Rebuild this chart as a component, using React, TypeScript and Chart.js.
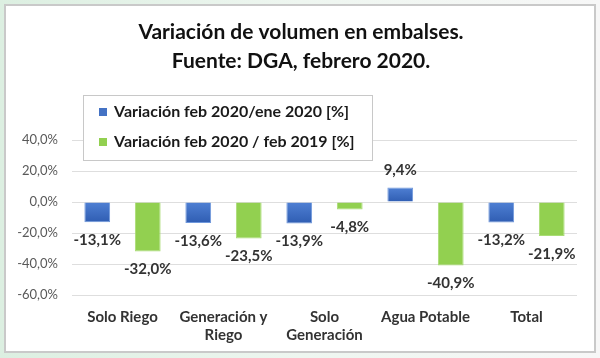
import React, { useEffect, useRef } from 'react';
import { Chart, registerables } from 'chart.js';

Chart.register(...registerables);

const titleLines = ['Variación de volumen en embalses.', 'Fuente: DGA, febrero 2020.'];
const categories: (string | string[])[] = [
  'Solo Riego',
  ['Generación y', 'Riego'],
  ['Solo', 'Generación'],
  'Agua Potable',
  'Total',
];
const seriesNames = ['Variación feb 2020/ene 2020 [%]', 'Variación feb 2020 / feb 2019 [%]'];
const seriesMonth = [-13.1, -13.6, -13.9, 9.4, -13.2];
const seriesYear = [-32.0, -23.5, -4.8, -40.9, -21.9];
const yMin = -60;
const yMax = 40;
const yStep = 20;

const FONT = 'Lato, Carlito, Calibri, "DejaVu Sans", sans-serif';
const fmt = (v: number) => v.toFixed(1).replace('.', ',') + '%';

const blueGradient = (ctx: any) => {
  const chart = ctx.chart;
  const y = chart.scales?.y;
  if (!ctx.parsed || !y) return '#3f6fc6';
  const p0 = y.getPixelForValue(0);
  const p1 = y.getPixelForValue(ctx.parsed.y);
  const top = Math.min(p0, p1);
  const bot = Math.max(p0, p1);
  if (!isFinite(top) || bot - top < 1) return '#3f6fc6';
  const g = chart.ctx.createLinearGradient(0, top, 0, bot);
  g.addColorStop(0, '#4f80d4');
  g.addColorStop(1, '#2f5db2');
  return g;
};

const overlayPlugin = {
  id: 'overlay',
  afterDatasetsDraw(chart: any) {
    const { ctx, chartArea } = chart;
    ctx.save();
    // data labels
    ctx.font = `bold 15px ${FONT}`;
    ctx.fillStyle = '#333333';
    ctx.textAlign = 'center';
    ctx.textBaseline = 'middle';
    chart.data.datasets.forEach((ds: any, di: number) => {
      const meta = chart.getDatasetMeta(di);
      meta.data.forEach((bar: any, i: number) => {
        const v = ds.data[i];
        const yy = v >= 0 ? bar.y - 17 : bar.y + 18;
        ctx.fillText(fmt(v), bar.x, yy);
      });
    });
    // title
    ctx.font = `bold 21px ${FONT}`;
    ctx.fillStyle = '#111111';
    const cx = 301;
    ctx.fillText(titleLines[0], cx, 32);
    ctx.fillText(titleLines[1], cx, 61);
    // legend
    const lx = chartArea.left + 11;
    const ly = chartArea.top - 45;
    const lw = 289;
    const lh = 65;
    ctx.fillStyle = '#ffffff';
    ctx.fillRect(lx, ly, lw, lh);
    ctx.strokeStyle = '#c8c8c8';
    ctx.lineWidth = 1;
    ctx.strokeRect(lx + 0.5, ly + 0.5, lw, lh);
    const colors = ['#4472c4', '#92d050'];
    ctx.font = `bold 16px ${FONT}`;
    ctx.textAlign = 'left';
    seriesNames.forEach((name, i) => {
      const rowY = ly + 17 + i * 30;
      ctx.fillStyle = colors[i];
      ctx.fillRect(lx + 16, rowY - 4, 8, 8);
      ctx.fillStyle = '#1a1a1a';
      ctx.fillText(name, lx + 31, rowY);
    });
    ctx.restore();
  },
};

export default function App() {
  const ref = useRef<HTMLCanvasElement>(null);
  useEffect(() => {
    if (!ref.current) return;
    const chart = new Chart(ref.current, {
      type: 'bar',
      data: {
        labels: categories as any,
        datasets: [
          {
            label: seriesNames[0],
            data: seriesMonth,
            backgroundColor: blueGradient,
            borderColor: '#6f98dc',
            borderWidth: 1,
          },
          {
            label: seriesNames[1],
            data: seriesYear,
            backgroundColor: '#92d050',
            borderColor: '#a9dc75',
            borderWidth: 1,
          },
        ],
      },
      options: {
        animation: false,
        responsive: false,
        layout: { padding: { top: 140, right: 23, left: 0, bottom: 0 } },
        datasets: { bar: { categoryPercentage: 1.0, barPercentage: 0.51 } } as any,
        plugins: {
          legend: { display: false },
          title: { display: false },
          tooltip: { enabled: false },
        },
        scales: {
          x: {
            grid: { display: false, drawTicks: false },
            border: { display: false },
            ticks: {
              font: { family: FONT, size: 15, weight: 'bold' as any },
              color: '#333333',
              padding: 13,
              maxRotation: 0,
              autoSkip: false,
            },
            afterFit: (s: any) => {
              s.height = 63;
            },
          },
          y: {
            min: yMin,
            max: yMax,
            grid: { color: '#dedede', drawTicks: false },
            border: { display: false },
            ticks: {
              stepSize: yStep,
              font: { family: FONT, size: 13 },
              color: '#595959',
              padding: 14,
              callback: (v: any) => fmt(Number(v)),
            },
            afterFit: (s: any) => {
              s.width = 72;
            },
          },
        },
      },
      plugins: [overlayPlugin],
    });
    return () => chart.destroy();
  }, []);

  return (
    <div
      style={{
        position: 'absolute',
        left: 0,
        top: 0,
        width: 600,
        height: 358,
        background: 'linear-gradient(90deg, #dcefe1 0%, #eef6f0 50%, #f7f7f7 100%)',
      }}
    >
      <div
        style={{
          position: 'absolute',
          left: 4,
          top: 4,
          width: 592,
          height: 349,
          boxSizing: 'border-box',
          border: '2px solid #c9c9c9',
          background: '#ffffff',
        }}
      />
      <canvas
        ref={ref}
        width={600}
        height={358}
        style={{ position: 'absolute', left: 0, top: 0, width: 600, height: 358 }}
      />
    </div>
  );
}
